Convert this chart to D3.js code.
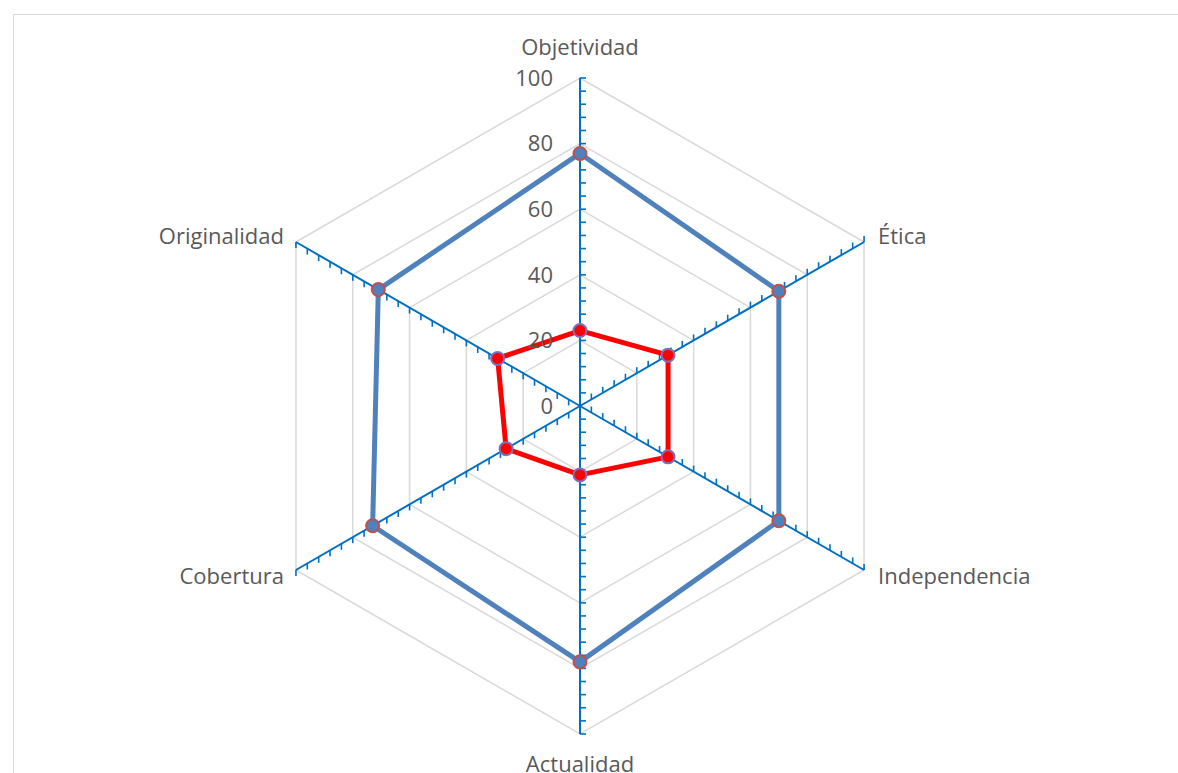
<!DOCTYPE html>
<html>
<head>
<meta charset="utf-8">
<script src="https://cdn.jsdelivr.net/npm/d3@7"></script>
<style>
  html, body { margin: 0; padding: 0; background: #fff; }
  svg { display: block; }
  text { font-family: "Open Sans", "Liberation Sans", sans-serif; fill: #595959; }
</style>
</head>
<body>
<svg id="chart" width="1178" height="773"></svg>
<script>
// Evaluation criteria around the radar
const categories = ["Objetividad", "Ética", "Independencia", "Actualidad", "Cobertura", "Originalidad"];
// Two series of scores (0–100)
const seriesHigh = [77, 70, 70, 78, 73, 71];
const seriesLow  = [23, 31, 31, 21, 26, 29];
// Radial axis ticks
const tickLabels = [0, 20, 40, 60, 80, 100];
const minorStep = 4;

const W = 1178, H = 773;
const cx = 580, cy = 406, R = 328;
const fontSize = 22;

const svg = d3.select("#chart");

// chart frame
svg.append("rect")
  .attr("x", 13.5).attr("y", 14.5)
  .attr("width", W + 20).attr("height", H + 20)
  .attr("fill", "#fff").attr("stroke", "#d9d9d9").attr("stroke-width", 1);

const r = d3.scaleLinear().domain([0, 100]).range([0, R]);
const angle = d3.scaleLinear().domain([0, categories.length]).range([0, 2 * Math.PI]);

// point at value v on the i-th spoke (0 = straight up, clockwise)
function pt(i, v) {
  const a = angle(i);
  return [cx + r(v) * Math.sin(a), cy - r(v) * Math.cos(a)];
}

const g = svg.append("g");

// hexagonal gridlines
const gridLine = d3.line().curve(d3.curveLinearClosed);
g.selectAll("path.grid")
  .data(tickLabels.filter(t => t > 0))
  .join("path")
  .attr("class", "grid")
  .attr("d", t => gridLine(categories.map((c, i) => pt(i, t))))
  .attr("fill", "none")
  .attr("stroke", "#d9d9d9")
  .attr("stroke-width", 1.5);

// spokes with tick marks
const minorTicks = d3.range(0, 100 + 0.001, minorStep);
categories.forEach((c, i) => {
  const end = pt(i, 100);
  g.append("line")
    .attr("x1", cx).attr("y1", cy)
    .attr("x2", end[0]).attr("y2", end[1])
    .attr("stroke", "#0070c0").attr("stroke-width", 2);
  const s = Math.sin(angle(i));
  // tick direction: right on vertical spokes, up on right spokes, down on left spokes
  let dx = 0, dy = 0;
  if (Math.abs(s) < 1e-6) dx = 6; else if (s > 0) dy = -6; else dy = 6;
  g.selectAll(null)
    .data(minorTicks.filter(t => t > 0))
    .join("line")
    .attr("x1", t => pt(i, t)[0]).attr("y1", t => pt(i, t)[1])
    .attr("x2", t => pt(i, t)[0] + dx).attr("y2", t => pt(i, t)[1] + dy)
    .attr("stroke", "#0070c0").attr("stroke-width", 1.6);
});

// data series
const seriesDefs = [
  { values: seriesHigh, line: "#4f81bd", marker: "#4f81bd", edge: "#c0504d" },
  { values: seriesLow,  line: "#ff0000", marker: "#ff0000", edge: "#7f6fb8" }
];
seriesDefs.forEach(s => {
  const pts = s.values.map((v, i) => pt(i, v));
  g.append("path")
    .attr("d", gridLine(pts))
    .attr("fill", "none")
    .attr("stroke", s.line)
    .attr("stroke-width", 5)
    .attr("stroke-linejoin", "round");
  g.selectAll(null)
    .data(pts)
    .join("circle")
    .attr("cx", d => d[0]).attr("cy", d => d[1])
    .attr("r", 6.5)
    .attr("fill", s.marker)
    .attr("stroke", s.edge)
    .attr("stroke-width", 2);
});

// value labels along the top spoke
g.selectAll("text.tick")
  .data(tickLabels)
  .join("text")
  .attr("class", "tick")
  .attr("x", cx - 27)
  .attr("y", t => cy - r(t))
  .attr("dy", "0.35em")
  .attr("text-anchor", "end")
  .attr("font-size", fontSize)
  .text(t => t);

// category labels
categories.forEach((c, i) => {
  const [x, y] = pt(i, 100);
  const s = Math.sin(angle(i)), co = Math.cos(angle(i));
  let anchor = "middle", tx = x, ty = y;
  if (Math.abs(s) < 1e-6) {
    ty = co > 0 ? y - 31 : y + 30;
  } else if (s > 0) {
    anchor = "start"; tx = x + 14; ty = y + (co > 0 ? -6 : 6);
  } else {
    anchor = "end"; tx = x - 12; ty = y + (co > 0 ? -6 : 6);
  }
  g.append("text")
    .attr("x", tx).attr("y", ty)
    .attr("dy", "0.35em")
    .attr("text-anchor", anchor)
    .attr("font-size", fontSize)
    .text(c);
});
</script>
</body>
</html>
